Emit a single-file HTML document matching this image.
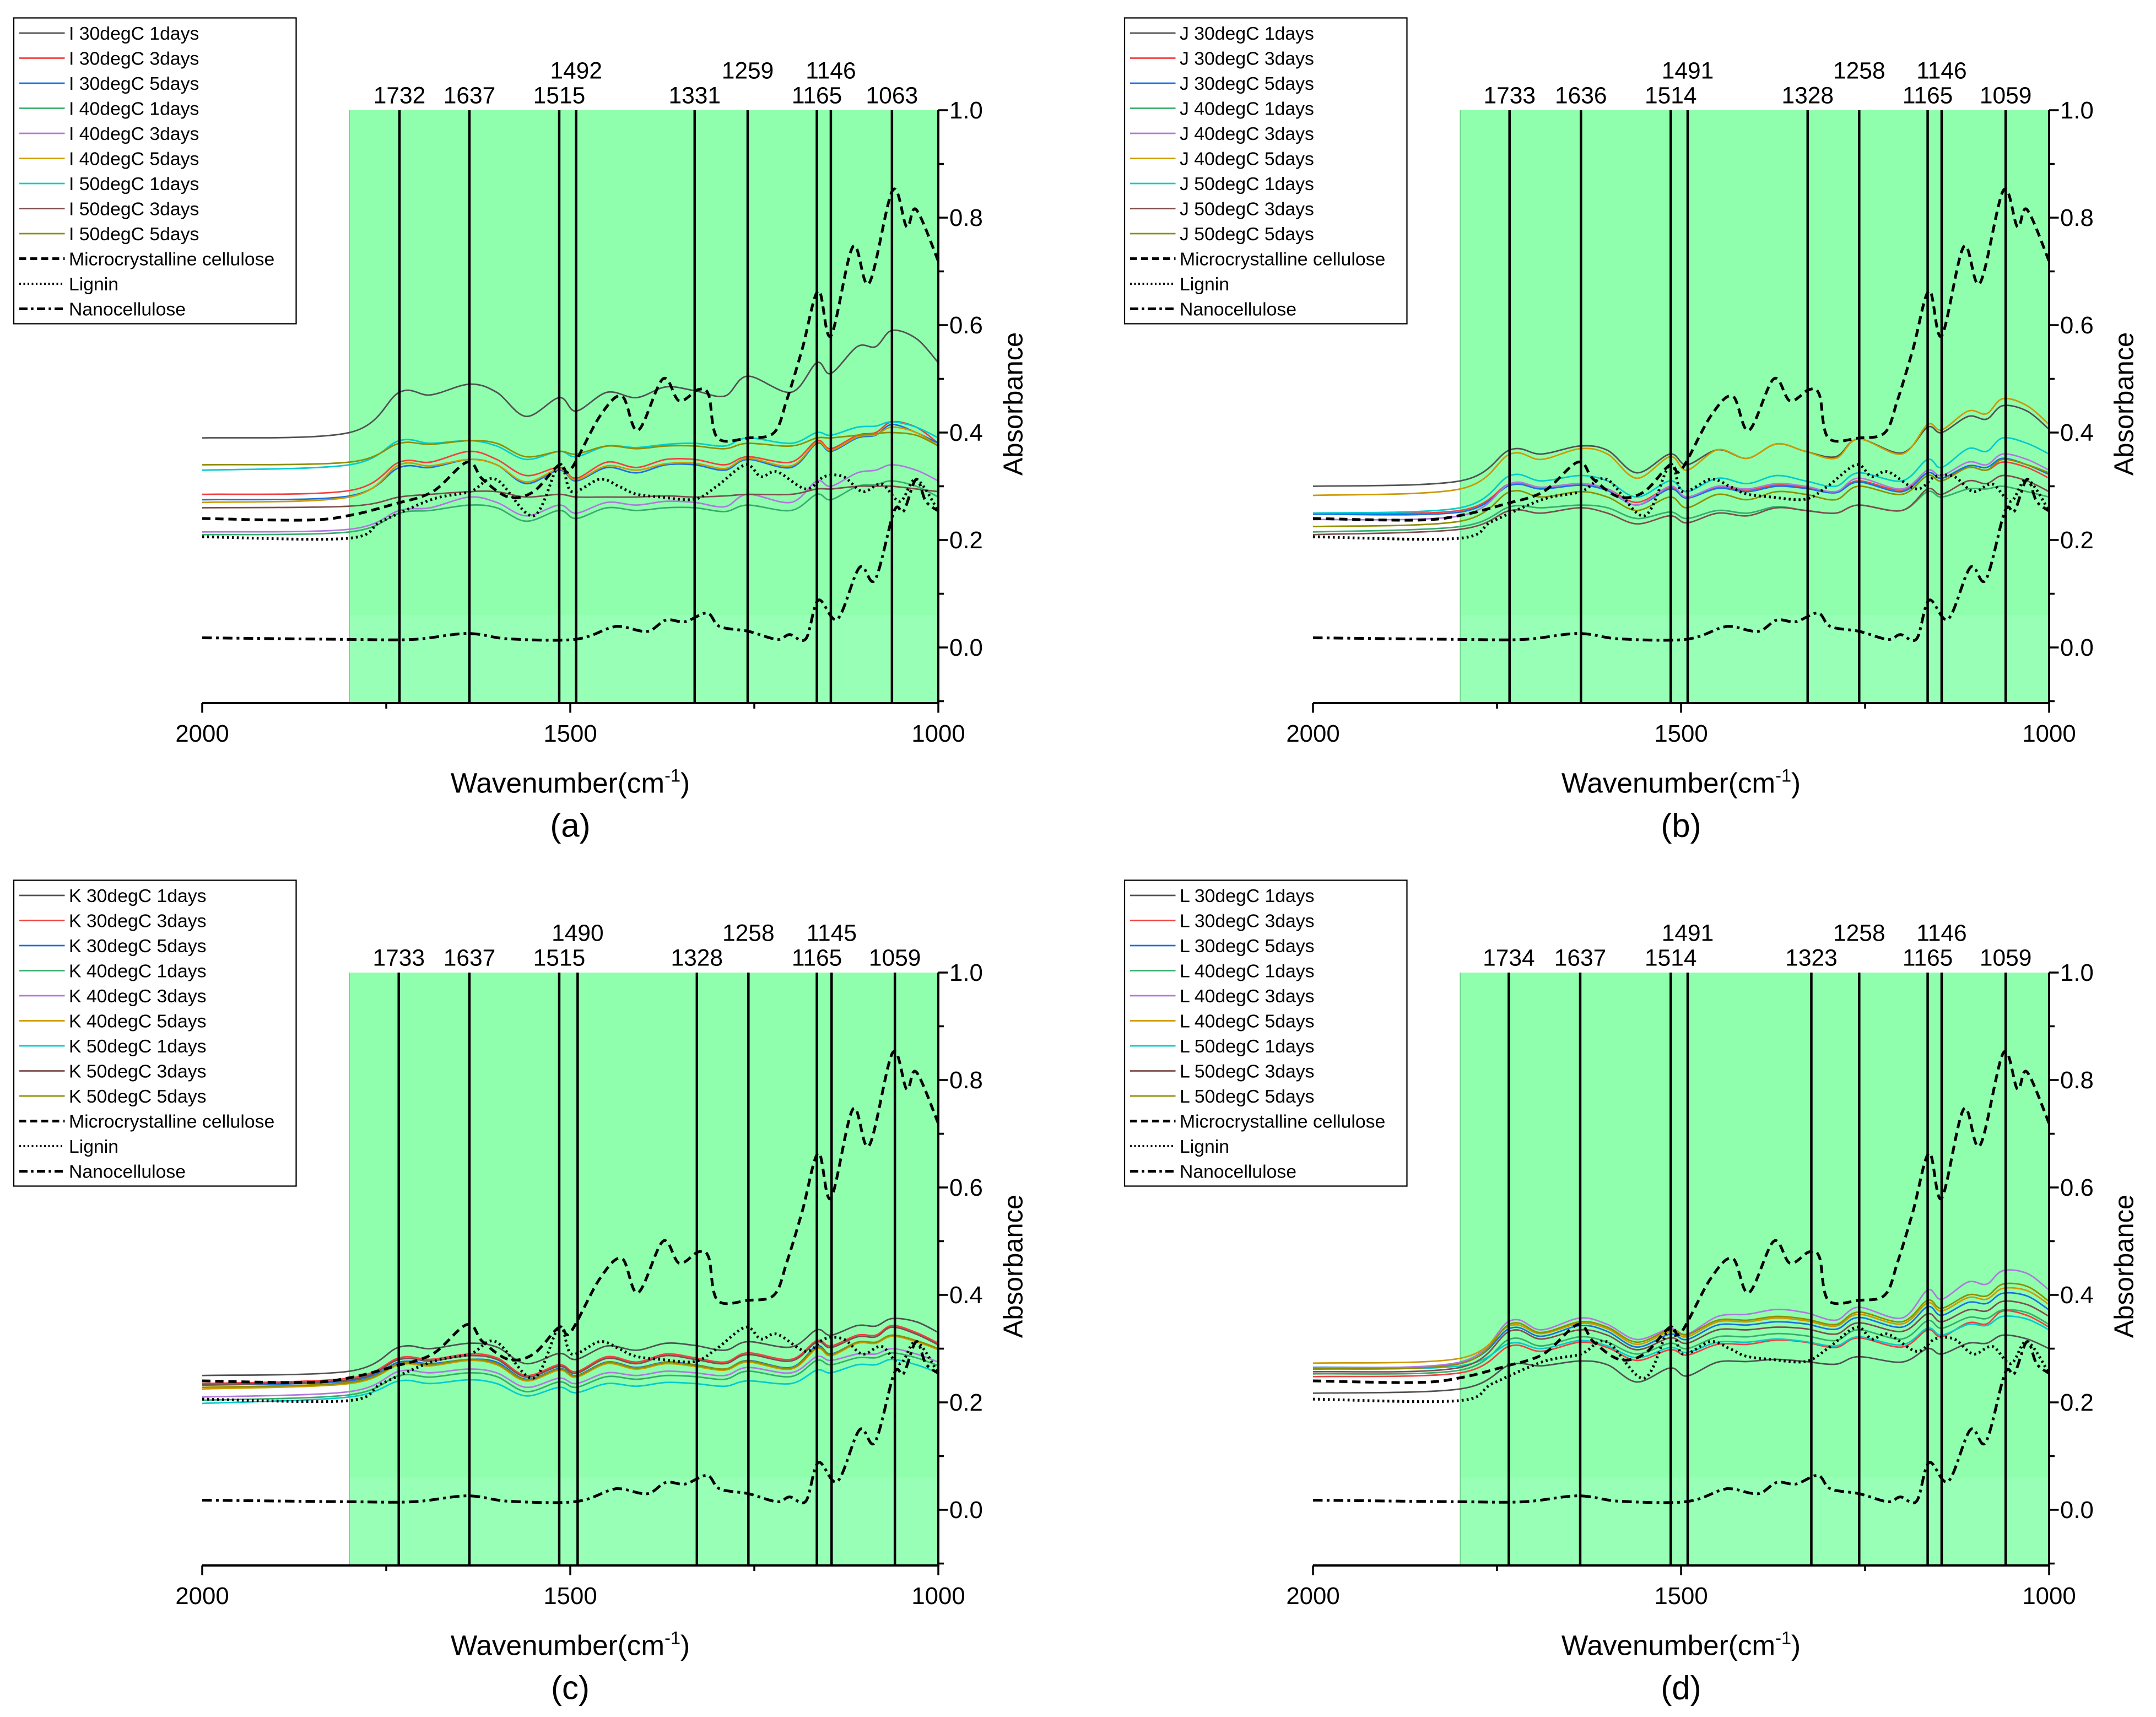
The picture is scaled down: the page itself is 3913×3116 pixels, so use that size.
<!DOCTYPE html>
<html><head><meta charset="utf-8"><style>
html,body{margin:0;padding:0;background:#fff;}
svg{display:block;}
text{font-family:"Liberation Sans",Arial,sans-serif;fill:#000;}
</style></head><body>
<svg id="fig" width="3913" height="3116" viewBox="0 0 1565.2 1246.4" xmlns="http://www.w3.org/2000/svg"></svg>
<script>
// ---- shared wavenumber grid for sample series ----
const gridX = [2000,1800,1732,1690,1637,1600,1560,1515,1492,1450,1410,1370,1331,1290,1259,1200,1165,1146,1110,1085,1063,1030,1000];
// ---- reference curves ----
const mccX = [2000,1859,1799,1739,1687,1640,1619,1584,1550,1515,1500,1460,1430,1408,1374,1352,1326,1312,1300,1258,1223,1206,1185,1163,1146,1116,1094,1062,1043,1030,1000];
const mccY = [0.24,0.237,0.246,0.267,0.29,0.345,0.313,0.28,0.29,0.34,0.33,0.43,0.468,0.404,0.50,0.459,0.48,0.47,0.39,0.39,0.40,0.46,0.555,0.664,0.58,0.746,0.678,0.851,0.783,0.815,0.719];
const ligX = [2000,1803,1756,1687,1636,1601,1550,1515,1498,1460,1434,1412,1378,1331,1301,1262,1241,1219,1180,1155,1129,1103,1077,1052,1030,1000];
const ligY = [0.206,0.203,0.235,0.276,0.29,0.313,0.245,0.34,0.29,0.313,0.30,0.286,0.28,0.276,0.30,0.34,0.318,0.327,0.295,0.318,0.318,0.29,0.304,0.272,0.313,0.254];
const nanoX = [2000,1800,1713,1640,1584,1494,1447,1430,1395,1370,1344,1314,1297,1258,1219,1202,1180,1163,1137,1107,1086,1060,1047,1030,1017,1000];
const nanoY = [0.018,0.015,0.015,0.026,0.016,0.015,0.036,0.039,0.03,0.051,0.048,0.064,0.039,0.03,0.015,0.024,0.016,0.088,0.053,0.149,0.126,0.254,0.254,0.313,0.272,0.254];
// ---- series per panel (order: 30/1,30/3,30/5,40/1,40/3,40/5,50/1,50/3,50/5) ----
const seriesA = [
[0.39,0.40,0.475,0.47,0.49,0.475,0.43,0.465,0.44,0.475,0.465,0.485,0.478,0.468,0.505,0.475,0.53,0.51,0.56,0.56,0.59,0.575,0.53],
[0.285,0.292,0.345,0.345,0.365,0.35,0.32,0.335,0.315,0.345,0.335,0.35,0.35,0.34,0.355,0.345,0.385,0.37,0.395,0.40,0.42,0.41,0.38],
[0.275,0.282,0.335,0.335,0.35,0.34,0.305,0.33,0.31,0.335,0.325,0.34,0.34,0.33,0.35,0.335,0.38,0.365,0.39,0.395,0.415,0.40,0.38],
[0.21,0.215,0.25,0.255,0.265,0.26,0.235,0.255,0.24,0.26,0.255,0.26,0.26,0.253,0.265,0.255,0.285,0.275,0.30,0.303,0.31,0.30,0.28],
[0.215,0.22,0.255,0.26,0.28,0.27,0.245,0.265,0.25,0.27,0.265,0.272,0.27,0.262,0.285,0.27,0.31,0.30,0.325,0.33,0.34,0.33,0.31],
[0.27,0.28,0.34,0.338,0.35,0.34,0.308,0.332,0.312,0.338,0.33,0.342,0.343,0.333,0.352,0.338,0.382,0.367,0.392,0.396,0.41,0.40,0.375],
[0.33,0.34,0.385,0.38,0.385,0.375,0.35,0.365,0.355,0.375,0.372,0.378,0.38,0.375,0.39,0.38,0.40,0.395,0.41,0.412,0.42,0.41,0.39],
[0.26,0.263,0.28,0.285,0.29,0.29,0.28,0.285,0.28,0.28,0.28,0.282,0.28,0.282,0.285,0.285,0.295,0.295,0.30,0.30,0.30,0.295,0.29],
[0.34,0.345,0.38,0.378,0.385,0.38,0.355,0.365,0.36,0.375,0.37,0.375,0.375,0.37,0.38,0.375,0.39,0.39,0.395,0.398,0.40,0.395,0.375]];
const seriesB = [
[0.30,0.31,0.368,0.36,0.375,0.367,0.325,0.36,0.34,0.368,0.352,0.379,0.365,0.355,0.388,0.362,0.41,0.40,0.43,0.425,0.45,0.44,0.406],
[0.25,0.255,0.305,0.298,0.305,0.295,0.27,0.298,0.28,0.298,0.293,0.302,0.298,0.29,0.31,0.293,0.325,0.315,0.335,0.33,0.345,0.335,0.315],
[0.248,0.252,0.302,0.295,0.302,0.292,0.265,0.295,0.278,0.296,0.29,0.30,0.296,0.288,0.308,0.29,0.325,0.315,0.338,0.335,0.352,0.34,0.322],
[0.215,0.225,0.262,0.26,0.265,0.26,0.24,0.252,0.24,0.255,0.25,0.262,0.255,0.25,0.265,0.255,0.29,0.28,0.295,0.295,0.30,0.29,0.28],
[0.238,0.245,0.305,0.298,0.305,0.295,0.265,0.30,0.28,0.30,0.295,0.305,0.30,0.29,0.315,0.295,0.33,0.32,0.345,0.34,0.36,0.35,0.33],
[0.283,0.295,0.36,0.35,0.37,0.36,0.315,0.355,0.33,0.368,0.352,0.379,0.365,0.352,0.388,0.36,0.415,0.405,0.44,0.435,0.463,0.45,0.415],
[0.25,0.26,0.32,0.31,0.32,0.31,0.28,0.31,0.29,0.315,0.305,0.32,0.31,0.30,0.325,0.31,0.35,0.335,0.37,0.365,0.39,0.38,0.36],
[0.21,0.22,0.255,0.25,0.26,0.25,0.23,0.245,0.232,0.25,0.245,0.26,0.255,0.25,0.265,0.255,0.295,0.285,0.31,0.305,0.32,0.31,0.29],
[0.225,0.235,0.29,0.28,0.29,0.28,0.255,0.28,0.26,0.285,0.275,0.29,0.285,0.275,0.30,0.285,0.32,0.31,0.335,0.33,0.35,0.34,0.325]];
const seriesC = [
[0.25,0.258,0.303,0.30,0.31,0.303,0.272,0.291,0.28,0.305,0.297,0.31,0.306,0.297,0.313,0.303,0.335,0.325,0.343,0.342,0.356,0.35,0.33],
[0.235,0.245,0.283,0.28,0.29,0.283,0.25,0.27,0.257,0.285,0.275,0.29,0.283,0.275,0.292,0.28,0.315,0.305,0.325,0.325,0.343,0.33,0.31],
[0.232,0.24,0.275,0.272,0.28,0.275,0.243,0.263,0.25,0.275,0.265,0.275,0.27,0.262,0.278,0.265,0.305,0.29,0.312,0.312,0.325,0.315,0.30],
[0.204,0.214,0.25,0.247,0.255,0.248,0.22,0.238,0.228,0.248,0.243,0.25,0.248,0.243,0.258,0.248,0.278,0.27,0.283,0.283,0.292,0.283,0.268],
[0.21,0.22,0.258,0.255,0.262,0.255,0.228,0.245,0.235,0.255,0.25,0.258,0.255,0.25,0.265,0.255,0.285,0.278,0.29,0.29,0.30,0.29,0.275],
[0.225,0.235,0.27,0.268,0.278,0.27,0.24,0.26,0.247,0.272,0.262,0.272,0.267,0.26,0.275,0.262,0.30,0.287,0.31,0.31,0.323,0.313,0.298],
[0.198,0.21,0.24,0.235,0.242,0.235,0.212,0.228,0.218,0.235,0.23,0.237,0.235,0.23,0.24,0.235,0.26,0.255,0.27,0.27,0.28,0.27,0.255],
[0.233,0.242,0.28,0.277,0.287,0.28,0.247,0.267,0.254,0.282,0.272,0.287,0.28,0.272,0.289,0.277,0.312,0.302,0.322,0.322,0.34,0.327,0.307],
[0.228,0.237,0.272,0.27,0.28,0.272,0.242,0.262,0.249,0.274,0.264,0.274,0.269,0.262,0.277,0.264,0.302,0.289,0.312,0.312,0.325,0.315,0.30]];
const seriesD = [
[0.217,0.225,0.27,0.268,0.277,0.27,0.238,0.264,0.249,0.275,0.276,0.28,0.276,0.271,0.285,0.275,0.30,0.29,0.31,0.31,0.325,0.318,0.30],
[0.248,0.255,0.305,0.295,0.312,0.302,0.278,0.298,0.288,0.308,0.308,0.316,0.312,0.302,0.32,0.303,0.335,0.322,0.348,0.346,0.37,0.362,0.34],
[0.265,0.273,0.338,0.323,0.343,0.332,0.303,0.327,0.317,0.344,0.344,0.35,0.346,0.336,0.358,0.34,0.378,0.362,0.386,0.384,0.403,0.398,0.372],
[0.253,0.26,0.318,0.305,0.322,0.312,0.29,0.31,0.30,0.322,0.322,0.328,0.324,0.315,0.335,0.318,0.352,0.338,0.358,0.356,0.372,0.367,0.345],
[0.264,0.275,0.352,0.335,0.357,0.345,0.317,0.337,0.327,0.36,0.364,0.373,0.367,0.353,0.377,0.357,0.409,0.392,0.424,0.42,0.445,0.44,0.409],
[0.273,0.282,0.343,0.328,0.347,0.337,0.308,0.332,0.322,0.35,0.35,0.357,0.352,0.342,0.364,0.346,0.385,0.37,0.395,0.392,0.412,0.408,0.382],
[0.262,0.268,0.31,0.30,0.315,0.305,0.283,0.302,0.293,0.312,0.312,0.318,0.313,0.305,0.322,0.307,0.338,0.325,0.345,0.343,0.36,0.355,0.335],
[0.257,0.265,0.333,0.318,0.335,0.325,0.298,0.32,0.31,0.335,0.335,0.34,0.337,0.327,0.348,0.332,0.365,0.35,0.372,0.37,0.388,0.382,0.36],
[0.262,0.272,0.346,0.33,0.35,0.34,0.312,0.335,0.326,0.353,0.353,0.36,0.355,0.345,0.368,0.35,0.39,0.375,0.40,0.398,0.42,0.416,0.388]];
const seriesNames = ["30degC 1days","30degC 3days","30degC 5days","40degC 1days","40degC 3days","40degC 5days","50degC 1days","50degC 3days","50degC 5days"];
const colors = ["#515151","#F14040","#1A6FDF","#37AD6B","#B177DE","#CC9900","#00CBCC","#7D4E4E","#8E8E00"];
const peaksA = [1732,1637,1515,1492,1331,1259,1165,1146,1063];
const peaksB = [1733,1636,1514,1491,1328,1258,1165,1146,1059];
const peaksC = [1733,1637,1515,1490,1328,1258,1165,1145,1059];
const peaksD = [1734,1637,1514,1491,1323,1258,1165,1146,1059];
const raised = [false,false,false,true,false,true,false,true,false];
const yTicks = [0.0,0.2,0.4,0.6,0.8,1.0];
const xTicks = [2000,1500,1000];

const NS="http://www.w3.org/2000/svg";
const svg=document.getElementById('fig');
function mk(tag,attrs,parent){const e=document.createElementNS(NS,tag);for(const k in attrs)e.setAttribute(k,attrs[k]);(parent||svg).appendChild(e);return e;}
function smooth(pts){let d="M"+pts[0][0].toFixed(2)+" "+pts[0][1].toFixed(2);
 for(let i=0;i<pts.length-1;i++){const p0=pts[Math.max(0,i-1)],p1=pts[i],p2=pts[i+1],p3=pts[Math.min(pts.length-1,i+2)];
  const c1x=p1[0]+(p2[0]-p0[0])/6,c1y=p1[1]+(p2[1]-p0[1])/6,c2x=p2[0]-(p3[0]-p1[0])/6,c2y=p2[1]-(p3[1]-p1[1])/6;
  d+=" C"+c1x.toFixed(2)+" "+c1y.toFixed(2)+" "+c2x.toFixed(2)+" "+c2y.toFixed(2)+" "+p2[0].toFixed(2)+" "+p2[1].toFixed(2);}
 return d;}

const panels=[
 {dx:0,dy:0,letter:"I",label:"(a)",series:seriesA,peaks:peaksA},
 {dx:806.4,dy:0,letter:"J",label:"(b)",series:seriesB,peaks:peaksB},
 {dx:0,dy:626,letter:"K",label:"(c)",series:seriesC,peaks:peaksC},
 {dx:806.4,dy:626,letter:"L",label:"(d)",series:seriesD,peaks:peaksD}];

panels.forEach((P,pi)=>{
 const g=mk('g',{});
 
 
 const X0=146.8+P.dx,X1=681.2+P.dx,Ytop=80+P.dy,Y0=470+P.dy,Ybot=510.4+P.dy;
 const xs=w=>X0+(2000-w)/1000*(X1-X0);
 const ys=v=>Y0-v*390;
 const gr=mk('rect',{x:xs(1800),y:Ytop,width:X1-xs(1800),height:Ybot-Ytop,fill:"#8fffae"},g);
 
 
 const gr2=mk('rect',{x:xs(1800),y:ys(0.06),width:X1-xs(1800),height:Ybot-ys(0.06),fill:"#98ffb7"},g);
 
 
 mk('line',{x1:xs(1800),y1:Ytop,x2:xs(1800),y2:Ybot,stroke:"#6fcf8a","stroke-width":0.6},g);
 P.series.forEach((vals,si)=>{
  const pts=gridX.map((w,i)=>[xs(w),ys(vals[i])]);
  const p=mk('path',{d:smooth(pts),fill:"none",stroke:colors[si],"stroke-width":1.1},g);
  
  
 });
 const refs=[[mccX,mccY,"6 3.5","mcc-curve"],[ligX,ligY,"1.4 2.2","lignin-curve"],[nanoX,nanoY,"7 3 2 3","nanocellulose-curve"]];
 refs.forEach(r=>{
  const pts=r[0].map((w,i)=>[xs(w),ys(r[1][i])]);
  const p=mk('path',{d:smooth(pts),fill:"none",stroke:"#000","stroke-width":2,"stroke-dasharray":r[2]},g);
  
  
 });
 P.peaks.forEach((w,i)=>{
  const l=mk('line',{x1:xs(w),y1:Ytop,x2:xs(w),y2:Ybot,stroke:"#000","stroke-width":1.8},g);
  
  
  const t=mk('text',{x:xs(w),y:(raised[i]?Ytop-23:Ytop-5),"text-anchor":"middle","font-size":17},g);
  t.textContent=w;
  
  
 });
 const xa=mk('line',{x1:X0,y1:Ybot,x2:X1+0.8,y2:Ybot,stroke:"#000","stroke-width":1.6},g);
 
 
 [2000,1750,1500,1250,1000].forEach(w=>{
  const major=xTicks.includes(w);
  mk('line',{x1:xs(w),y1:Ybot,x2:xs(w),y2:Ybot+(major?7:4),stroke:"#000","stroke-width":1.4},g);
 });
 xTicks.forEach(w=>{
  const t=mk('text',{x:xs(w),y:Ybot+28,"text-anchor":"middle","font-size":17.5},g);
  t.textContent=w;
  
  
 });
 const xt=mk('text',{x:(X0+X1)/2,y:Ybot+65,"text-anchor":"middle","font-size":20.5},g);
 xt.innerHTML='Wavenumber(cm<tspan dy="-8" font-size="13">-1</tspan><tspan dy="8">)</tspan>';
 
 
 const pl=mk('text',{x:(X0+X1)/2,y:Ybot+97,"text-anchor":"middle","font-size":24},g);
 pl.textContent=P.label;
 
 
 const ya=mk('line',{x1:X1,y1:Ytop,x2:X1,y2:Ybot+0.8,stroke:"#000","stroke-width":1.6},g);
 
 
 for(let k=-1;k<=10;k++){const v=k/10;const yy=ys(v);if(yy<Ytop-0.5)continue;
  mk('line',{x1:X1,y1:yy,x2:X1+(k%2===0?7:4),y2:yy,stroke:"#000","stroke-width":1.4},g);}
 yTicks.forEach(v=>{
  const t=mk('text',{x:X1+8,y:ys(v)+6,"font-size":17.5},g);
  t.textContent=v.toFixed(1);
  
  
 });
 const yt=mk('text',{x:X1+61,y:(Ytop+Ybot)/2-2,"text-anchor":"middle","font-size":19.5,transform:"rotate(-90 "+(X1+61)+" "+((Ytop+Ybot)/2-2)+")"},g);
 yt.textContent="Absorbance";
 
 
 const lg=mk('g',{},g);
 
 
 const LX=10+P.dx,LY=13+P.dy;
 mk('rect',{x:LX,y:LY,width:205,height:222,fill:"#fff",stroke:"#000","stroke-width":0.9},lg);
 const entries=seriesNames.map((n,i)=>[P.letter+" "+n,colors[i],1.1,null]).concat([["Microcrystalline cellulose","#000",2,"5 3"],["Lignin","#000",1.6,"1.2 1.8"],["Nanocellulose","#000",2,"6 2.5 1.8 2.5"]]);
 entries.forEach((e,i)=>{
  const yy=LY+11+i*18.2;
  const ent=mk('g',{},lg);
  
  
  const a={x1:LX+4,y1:yy,x2:LX+37,y2:yy,stroke:e[1],"stroke-width":e[2]};
  if(e[3])a["stroke-dasharray"]=e[3];
  mk('line',a,ent);
  const t=mk('text',{x:LX+40,y:yy+4.8,"font-size":13.5},ent);
  t.textContent=e[0];
 });
});
</script>
</body></html>
